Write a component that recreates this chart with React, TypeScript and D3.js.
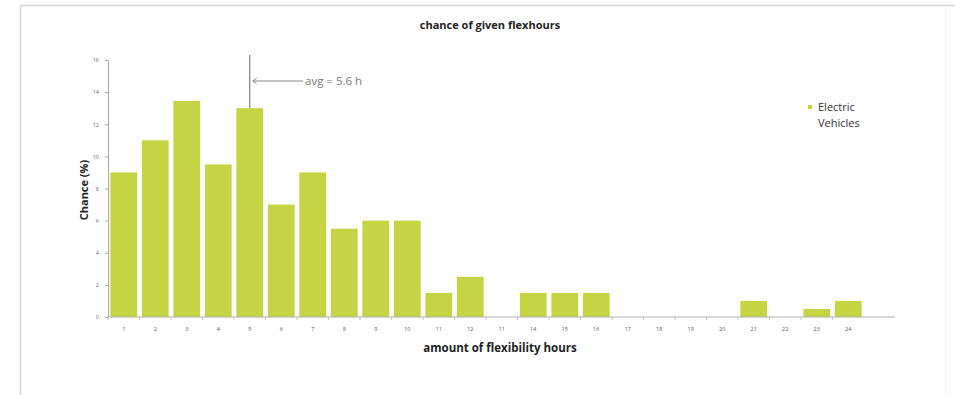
import * as d3 from "d3";
import React from "react";

const hours = [
	"1", "2", "3", "4", "5", "6", "7", "8", "9", "10", "11", "12",
	"13", "14", "15", "16", "17", "18", "19", "20", "21", "22", "23", "24",
];
// tick labels as printed on the original (13 is shown as "11")
const hourLabels = [
	"1", "2", "3", "4", "5", "6", "7", "8", "9", "10", "11", "12",
	"11", "14", "15", "16", "17", "18", "19", "20", "21", "22", "23", "24",
];
const chance = [
	9, 11, 13.45, 9.5, 13, 7, 9, 5.5, 6, 6, 1.5, 2.5,
	0, 1.5, 1.5, 1.5, 0, 0, 0, 0, 1, 0, 0.5, 1,
];
const yTicks = [0, 2, 4, 6, 8, 10, 12, 14, 16];
const avgHour = "5";
const avgLabel = "avg = 5.6 h";
const seriesName = ["Electric", "Vehicles"];

const BAR = "#c4d443";
const FONT = "'Open Sans', 'Liberation Sans', sans-serif";

export default function App() {
	const svgRef = React.useRef<SVGSVGElement>(null);

	React.useEffect(() => {
		if (!svgRef.current) return;
		const svg = d3.select(svgRef.current);
		svg.selectAll("*").remove();

		const left = 108;
		const step = 31.5;
		const x = d3
			.scaleBand<string>()
			.domain(hours)
			.range([left, left + step * hours.length])
			.paddingInner(0.15)
			.paddingOuter(0.075);
		const y = d3.scaleLinear().domain([0, 16]).range([317, 60]);

		// frame
		svg
			.append("path")
			.attr("d", "M20.5,395 V5.5 H955")
			.attr("fill", "none")
			.attr("stroke", "#d4d4d4")
			.attr("stroke-width", 1.5);
		svg
			.append("line")
			.attr("x1", 945.5)
			.attr("x2", 945.5)
			.attr("y1", 8)
			.attr("y2", 395)
			.attr("stroke", "#f5f5f5");

		// title
		svg
			.append("text")
			.attr("x", 490)
			.attr("y", 29)
			.attr("text-anchor", "middle")
			.attr("font-family", FONT)
			.attr("font-weight", "bold")
			.attr("font-size", 11)
			.attr("fill", "#222")
			.text("chance of given flexhours");

		// bars
		svg
			.append("g")
			.selectAll("rect")
			.data(chance)
			.join("rect")
			.attr("x", (_, i) => x(hours[i]) as number)
			.attr("width", x.bandwidth())
			.attr("y", (d) => y(d))
			.attr("height", (d) => y(0) - y(d))
			.attr("fill", BAR);

		// y axis
		const yAxis = svg
			.append("g")
			.attr("transform", `translate(${left},0)`)
			.call(d3.axisLeft(y).tickValues(yTicks).tickSize(3).tickPadding(6));
		yAxis.select(".domain").attr("stroke", "#a8a8a8");
		yAxis.selectAll(".tick line").attr("stroke", "#a8a8a8");
		yAxis
			.selectAll(".tick text")
			.attr("font-family", FONT)
			.attr("font-size", 5.5)
			.attr("fill", "#666");

		// x axis
		const xAxis = svg
			.append("g")
			.attr("transform", `translate(0,${y(0)})`)
			.call(
				d3
					.axisBottom(x)
					.tickSize(0)
					.tickPadding(10)
					.tickFormat((_, i) => hourLabels[i]),
			);
		xAxis.select(".domain").remove();
		xAxis
			.append("line")
			.attr("x1", left)
			.attr("x2", 895)
			.attr("stroke", "#b0b0b0");
		xAxis
			.selectAll("line.sep")
			.data(hours)
			.join("line")
			.attr("class", "sep")
			.attr("x1", (d) => (x(d) as number) - (x.step() - x.bandwidth()) / 2)
			.attr("x2", (d) => (x(d) as number) - (x.step() - x.bandwidth()) / 2)
			.attr("y2", 3)
			.attr("stroke", "#c0c0c0");
		xAxis
			.selectAll(".tick text")
			.attr("font-family", FONT)
			.attr("font-size", 5.5)
			.attr("fill", "#555");

		// axis titles
		svg
			.append("text")
			.attr("transform", `translate(88,190) rotate(-90)`)
			.attr("text-anchor", "middle")
			.attr("font-family", FONT)
			.attr("font-weight", "bold")
			.attr("font-size", 11)
			.attr("fill", "#222")
			.text("Chance (%)");
		svg
			.append("text")
			.attr("x", 500)
			.attr("y", 352)
			.attr("text-anchor", "middle")
			.attr("font-family", FONT)
			.attr("font-weight", "bold")
			.attr("font-size", 11.5)
			.attr("fill", "#222")
			.text("amount of flexibility hours");

		// average marker
		const ax = (x(avgHour) as number) + x.bandwidth() / 2;
		svg
			.append("line")
			.attr("x1", ax)
			.attr("x2", ax)
			.attr("y1", 55)
			.attr("y2", y(chance[4]))
			.attr("stroke", "#666")
			.attr("stroke-width", 1);
		svg
			.append("line")
			.attr("x1", ax + 3)
			.attr("x2", 303)
			.attr("y1", 81)
			.attr("y2", 81)
			.attr("stroke", "#888");
		svg
			.append("path")
			.attr("d", `M${ax + 7},78 L${ax + 3},81 L${ax + 7},84`)
			.attr("fill", "none")
			.attr("stroke", "#888");
		svg
			.append("text")
			.attr("x", 305)
			.attr("y", 85)
			.attr("font-family", FONT)
			.attr("font-size", 11.5)
			.attr("fill", "#777")
			.text(avgLabel);

		// legend
		svg
			.append("rect")
			.attr("x", 808)
			.attr("y", 105)
			.attr("width", 4)
			.attr("height", 4)
			.attr("fill", BAR);
		svg
			.append("text")
			.attr("x", 818)
			.attr("font-family", FONT)
			.attr("font-size", 11)
			.attr("fill", "#333")
			.selectAll("tspan")
			.data(seriesName)
			.join("tspan")
			.attr("x", 818)
			.attr("y", (_, i) => 111 + i * 16)
			.text((d) => d);
	}, []);

	return (
		<svg
			ref={svgRef}
			width={955}
			height={395}
			style={{ position: "absolute", left: 0, top: 0, background: "#fff" }}
		/>
	);
}
